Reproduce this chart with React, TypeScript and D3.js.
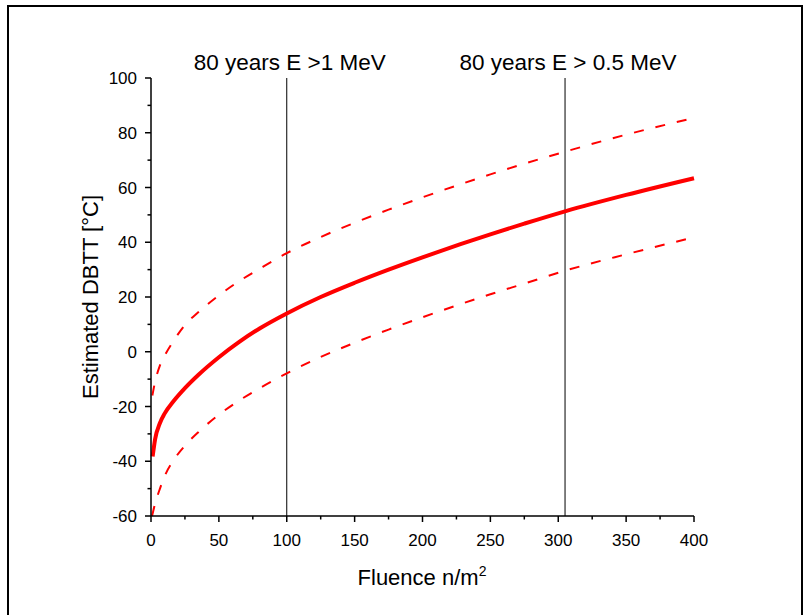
import React from "react";
import * as d3 from "d3";

const xTicks = [0, 50, 100, 150, 200, 250, 300, 350, 400];
const yTicks = [-60, -40, -20, 0, 20, 40, 60, 80, 100];

const fluenceMid = [1.2, 3, 6.6, 10, 16.4, 25, 35, 50, 65, 80, 100, 125, 150, 175, 200, 228, 250, 275, 305, 350, 400];
const dbttMid = [-38.3, -32, -26, -22.6, -18.2, -13.3, -8.4, -2, 3.6, 8.5, 14, 20, 25.2, 30, 34.5, 39.3, 42.9, 46.8, 51.3, 57.3, 63.4];

const fluenceUpper = [1, 3, 6.6, 10, 16.4, 25, 35, 50, 65, 80, 100, 125, 150, 175, 200, 228, 250, 275, 305, 350, 400];
const dbttUpper = [-16, -11, -5, -1.5, 3.8, 9.8, 14.5, 20.6, 25.8, 30.3, 36, 41.9, 47.1, 51.9, 56.4, 61.2, 64.8, 68.7, 73.1, 79.3, 85.4];

const fluenceLower = [0.8, 3, 6.6, 10, 16.4, 25, 35, 50, 65, 80, 100, 125, 150, 175, 200, 228, 250, 275, 305, 350, 400];
const dbttLower = [-60, -55.5, -50, -45.5, -39.8, -34.3, -29.3, -23, -17.8, -13.3, -7.9, -1.9, 3.3, 8.1, 12.6, 17.4, 21, 24.9, 29.6, 35.6, 41.8];

const refLines = [100, 305];
const refLabels = ["80 years E >1 MeV", "80 years E > 0.5 MeV"];

const W = 804, H = 615;
const left = 151, right = 694, top = 78, bottom = 516;
const FONT = "Arial, 'Liberation Sans', sans-serif";

export default function App() {
  const x = d3.scaleLinear().domain([0, 400]).range([left, right]);
  const y = d3.scaleLinear().domain([-60, 100]).range([bottom, top]);
  const line = d3.line<[number, number]>().x(d => x(d[0])).y(d => y(d[1])).curve(d3.curveMonotoneX);
  const mk = (fs: number[], vs: number[]) => line(fs.map((f, i) => [f, vs[i]] as [number, number])) || "";

  const xMinor = d3.range(25, 400, 50);
  const yMinor = d3.range(-50, 100, 20);

  return (
    <svg width={W} height={H} style={{ position: "absolute", left: 0, top: 0, background: "#fff" }} fontFamily={FONT}>
      <rect x={0} y={0} width={W} height={H} fill="#fff" />
      <rect x={8} y={6} width={794} height={640} fill="none" stroke="#000" strokeWidth={2} />

      {refLines.map((r, i) => (
        <g key={r}>
          <line x1={x(r)} x2={x(r)} y1={top} y2={bottom} stroke="#000" strokeWidth={1} />
          <text x={x(r) + 3} y={70} fontSize={22.5} textAnchor="middle" fill="#000">{refLabels[i]}</text>
        </g>
      ))}

      <path d={mk(fluenceUpper, dbttUpper)} fill="none" stroke="#ff0000" strokeWidth={2} strokeDasharray="10,12" />
      <path d={mk(fluenceLower, dbttLower)} fill="none" stroke="#ff0000" strokeWidth={2} strokeDasharray="10,12" />
      <path d={mk(fluenceMid, dbttMid)} fill="none" stroke="#ff0000" strokeWidth={4} />

      <line x1={left} x2={right} y1={bottom} y2={bottom} stroke="#000" strokeWidth={1.5} />
      <line x1={left} x2={left} y1={top} y2={bottom} stroke="#000" strokeWidth={1.5} />

      {xTicks.map(t => (
        <g key={"xt" + t}>
          <line x1={x(t)} x2={x(t)} y1={bottom} y2={bottom + 6} stroke="#000" strokeWidth={1.5} />
          <text x={x(t)} y={546} fontSize={17} textAnchor="middle">{t}</text>
        </g>
      ))}
      {xMinor.map(t => (
        <line key={"xm" + t} x1={x(t)} x2={x(t)} y1={bottom} y2={bottom + 3.5} stroke="#000" strokeWidth={1.5} />
      ))}
      {yTicks.map(t => (
        <g key={"yt" + t}>
          <line x1={left - 6} x2={left} y1={y(t)} y2={y(t)} stroke="#000" strokeWidth={1.5} />
          <text x={137} y={y(t) + 6} fontSize={17} textAnchor="end">{t}</text>
        </g>
      ))}
      {yMinor.map(t => (
        <line key={"ym" + t} x1={left - 3.5} x2={left} y1={y(t)} y2={y(t)} stroke="#000" strokeWidth={1.5} />
      ))}

      <text x={422} y={585} fontSize={22} textAnchor="middle">
        Fluence n/m<tspan dy={-9} fontSize={14}>2</tspan>
      </text>
      <text transform={`translate(98,${(top + bottom) / 2}) rotate(-90)`} fontSize={22} textAnchor="middle">
        Estimated DBTT [°C]
      </text>
    </svg>
  );
}
